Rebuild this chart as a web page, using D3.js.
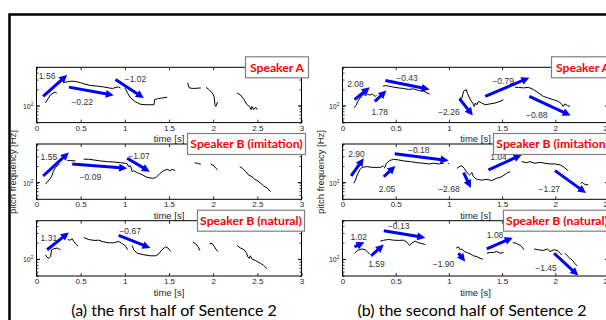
<!DOCTYPE html>
<html>
<head>
<meta charset="utf-8">
<script src="https://cdn.jsdelivr.net/npm/d3@7"></script>
<style>
  body { margin: 0; background: #fff; }
  text { font-family: "Liberation Sans", Arial, sans-serif; }
</style>
</head>
<body>
<div id="chart"></div>
<script>
// axis values
const yDomain = [50, 500];
const xTicksA = [0, 0.5, 1, 1.5, 2, 2.5, 3];
const xTicksB = [0, 0.5, 1, 1.5, 2, 2.5];
const speakers = ["Speaker A", "Speaker B (imitation)", "Speaker B (natural)"];
const captions = ["(a) the first half of Sentence 2", "(b) the second half of Sentence 2"];

// pitch contours: segments of [time s, F0 Hz]
const firstA = [
  [[0.10,113],[0.16,160],[0.21,179],[0.23,170]],
  [[0.30,263],[0.35,274],[0.40,281],[0.46,274],[0.50,263],[0.56,245],[0.61,235],[0.69,228],[0.76,221],[0.82,212],[0.86,207],[0.90,217],[0.93,221],[0.95,212]],
  [[1.00,212],[1.01,199],[1.03,172],[1.065,139],[1.12,119],[1.18,107],[1.25,105],[1.33,105],[1.337,130],[1.37,135],[1.42,139],[1.48,144]],
  [[1.71,263],[1.73,212],[1.78,207],[1.86,212]],
  [[1.92,217],[1.95,199],[1.99,172],[2.01,149],[2.02,105],[2.03,98],[2.05,118]],
  [[2.27,172],[2.31,158],[2.35,130],[2.38,107],[2.41,98],[2.43,86],[2.44,98],[2.46,86],[2.48,95],[2.50,86]]
];
const firstImit = [
  [[0.10,95],[0.12,101],[0.14,111],[0.17,128],[0.19,158],[0.215,189],[0.25,209],[0.26,218]],
  [[0.35,251],[0.385,251],[0.44,247]],
  [[0.535,265],[0.59,265],[0.65,257],[0.725,247],[0.80,240],[0.875,236],[0.95,230],[1.01,224],[1.03,218],[1.04,195],[1.065,201],[1.083,158],[1.10,165],[1.14,152],[1.20,138],[1.25,125],[1.31,120],[1.35,123],[1.40,148],[1.44,165],[1.48,174],[1.51,165],[1.54,174],[1.57,165]],
  [[1.79,230],[1.82,224],[1.86,215]],
  [[1.97,218],[2.01,201],[2.03,182],[2.05,170]],
  [[2.30,195],[2.33,182],[2.37,158],[2.40,138],[2.44,128],[2.47,115],[2.50,109],[2.54,97],[2.57,88],[2.61,80],[2.65,69]]
];
const firstNat = [
  [[0.10,121],[0.12,109],[0.14,104],[0.16,112],[0.17,149],[0.19,154],[0.235,160],[0.25,156],[0.27,149]],
  [[0.355,229],[0.377,222],[0.404,236],[0.42,213],[0.45,185],[0.47,173]],
  [[0.535,247],[0.59,229],[0.65,220],[0.705,222],[0.76,207],[0.82,199],[0.875,199],[0.93,211],[0.97,193],[1.01,173],[1.03,149]],
  [[1.083,178],[1.10,149],[1.14,129],[1.215,121],[1.29,116],[1.35,116],[1.385,126],[1.42,149],[1.46,168],[1.49,160],[1.52,139]],
  [[1.77,204],[1.80,193],[1.83,168],[1.85,145]],
  [[1.96,193],[1.99,193],[2.01,173],[2.03,154],[2.05,139]],
  [[2.27,178],[2.31,160],[2.35,149],[2.38,129],[2.39,112],[2.41,104],[2.42,116],[2.44,101],[2.48,95],[2.54,84],[2.57,78],[2.61,68]]
];
const secondA = [
  [[0.106,94],[0.122,98],[0.131,105],[0.144,121],[0.163,139],[0.184,149],[0.20,160],[0.225,156],[0.238,165],[0.256,156],[0.278,165],[0.294,156],[0.309,149],[0.319,156]],
  [[0.381,228],[0.403,234],[0.434,228],[0.481,219],[0.528,212],[0.575,207],[0.622,199],[0.669,204],[0.716,190],[0.763,185],[0.794,172],[0.819,165]],
  [[1.10,139],[1.122,139],[1.138,185],[1.163,199],[1.175,167],[1.194,139],[1.206,124],[1.225,113],[1.238,98],[1.25,113],[1.263,105],[1.278,121],[1.309,113],[1.341,105],[1.388,109],[1.434,113],[1.481,121],[1.513,130]],
  [[1.622,217],[1.653,217],[1.70,212],[1.747,217],[1.794,199],[1.841,172],[1.888,149],[1.934,139],[1.98,130],[2.028,121],[2.059,109],[2.075,98],[2.09,109],[2.113,102],[2.138,98]]
];
const secondImit = [
  [[0.106,97],[0.122,111],[0.138,138],[0.163,170],[0.184,189],[0.231,195],[0.278,189],[0.325,189],[0.356,189],[0.372,195],[0.388,201]],
  [[0.394,182],[0.413,224],[0.444,251],[0.481,265],[0.528,257],[0.575,247],[0.638,240],[0.70,230],[0.763,224],[0.809,218],[0.856,224],[0.903,218],[0.95,224]],
  [[0.99,224],[1.0,220]],
  [[1.075,182],[1.10,195],[1.122,201],[1.144,182],[1.169,152],[1.194,138],[1.216,152],[1.231,128],[1.263,115],[1.309,111],[1.356,115],[1.403,109],[1.45,120],[1.497,128],[1.544,148],[1.575,158]],
  [[1.684,240],[1.731,230],[1.763,240],[1.809,224],[1.856,233],[1.903,224],[1.95,218],[1.997,218],[2.044,209],[2.075,195],[2.106,174],[2.122,165]],
  [[2.238,97],[2.256,101],[2.269,95],[2.288,91],[2.309,93]]
];
const secondNat = [
  [[0.113,129],[0.131,139],[0.153,149],[0.184,154],[0.216,149],[0.238,133],[0.256,126]],
  [[0.356,213],[0.388,222],[0.434,229],[0.481,222],[0.528,220],[0.575,222],[0.606,204],[0.631,178],[0.653,199],[0.684,213],[0.716,199],[0.747,193],[0.778,185]],
  [[1.069,160],[1.09,168],[1.106,149],[1.122,154],[1.144,139],[1.169,133],[1.20,126],[1.231,116],[1.263,112],[1.294,104],[1.319,101]],
  [[1.356,129],[1.388,133],[1.419,133],[1.45,139],[1.481,129],[1.513,133]],
  [[1.60,199],[1.622,199],[1.653,185],[1.675,178],[1.694,160],[1.706,149]],
  [[1.80,154],[1.84,149],[1.888,145],[1.925,154],[1.95,139],[1.988,149],[2.019,145],[2.044,129],[2.06,121]],
  [[2.09,129],[2.113,116],[2.138,104],[2.163,95],[2.184,84],[2.206,76]]
];

// slope arrows: from / to [time, Hz], slope value and where it is written
const arrowsFirstA = [
  { from: [0.075,149], to: [0.347,363], slope: "1.56", at: [0.12,348] },
  { from: [0.366,219], to: [0.875,156], slope: "\u22120.22", at: [0.517,118] },
  { from: [0.894,302], to: [1.215,139], slope: "\u22121.02", at: [1.12,302] }
];
const arrowsFirstImit = [
  { from: [0.075,132], to: [0.366,352], slope: "1.55", at: [0.14,288] },
  { from: [0.404,218], to: [1.026,182], slope: "\u22120.09", at: [0.61,128] },
  { from: [1.026,276], to: [1.283,158], slope: "\u22121.07", at: [1.16,306] }
];
const arrowsFirstNat = [
  { from: [0.12,149], to: [0.366,306], slope: "1.31", at: [0.14,247] },
  { from: [0.93,272], to: [1.29,160], slope: "\u22120.67", at: [1.06,329] }
];
const arrowsSecondA = [
  { from: [0.113,130], to: [0.256,217], slope: "2.08", at: [0.122,251] },
  { from: [0.303,121], to: [0.413,190], slope: "1.78", at: [0.35,78] },
  { from: [0.403,289], to: [0.819,199], slope: "\u22120.43", at: [0.606,324] },
  { from: [1.10,135], to: [1.225,67], slope: "\u22122.26", at: [1.0,78] },
  { from: [1.341,149], to: [1.756,324], slope: "\u22120.79", at: [1.51,281] },
  { from: [1.756,149], to: [2.144,67], slope: "\u22120.88", at: [1.825,69] }
];
const arrowsSecondImit = [
  { from: [0.081,132], to: [0.20,276], slope: "2.90", at: [0.131,333] },
  { from: [0.388,128], to: [0.497,201], slope: "2.05", at: [0.419,76] },
  { from: [0.491,333], to: [0.997,251], slope: "\u22120.18", at: [0.716,394] },
  { from: [1.138,152], to: [1.206,80], slope: "\u22122.68", at: [1.0,76] },
  { from: [1.372,170], to: [1.684,319], slope: "1.04", at: [1.466,288] },
  { from: [1.997,165], to: [2.288,65], slope: "\u22121.27", at: [1.944,76] }
];
const arrowsSecondNat = [
  { from: [0.113,168], to: [0.206,204], slope: "1.02", at: [0.153,257] },
  { from: [0.269,116], to: [0.388,185], slope: "1.59", at: [0.319,82] },
  { from: [0.388,329], to: [0.778,247], slope: "\u22120.13", at: [0.528,398] },
  { from: [1.09,129], to: [1.153,91], slope: "\u22121.90", at: [0.95,82] },
  { from: [1.356,154], to: [1.60,247], slope: "1.08", at: [1.434,272] },
  { from: [1.988,129], to: [2.216,51], slope: "\u22121.45", at: [1.9125,71] }
];

const W = 606, H = 320;
const svg = d3.select('#chart').append('svg')
  .attr('width', W).attr('height', H);

// outer frame (runs past the picture on right / bottom)
svg.append('rect')
  .attr('x', 9.5).attr('y', 14.5).attr('width', 700).attr('height', 400)
  .attr('fill', 'none').attr('stroke', '#000').attr('stroke-width', 2.5);

const columns = [
  { x0: 36.5, x1: 301.5, dom: [0, 3], ticks: xTicksA, curves: [firstA, firstImit, firstNat],
    arrows: [arrowsFirstA, arrowsFirstImit, arrowsFirstNat], yLabX: 16, caption: captions[0], capX: 174 },
  { x0: 342.5, x1: 608.5, dom: [0, 2.5], ticks: xTicksB, curves: [secondA, secondImit, secondNat],
    arrows: [arrowsSecondA, arrowsSecondImit, arrowsSecondNat], yLabX: 324, caption: captions[1], capX: 472 }
];
const tops = [67.3, 144, 220.7];
const ph = 55.3;
const legendOff = [209, 151, 161];
const legendW = [63, 118, 107];

function drawArrow(g, p0, p1) {
  const dx = p1[0] - p0[0], dy = p1[1] - p0[1];
  const L = Math.hypot(dx, dy), ux = dx / L, uy = dy / L;
  const hl = 8, hw = 4;
  const bx = p1[0] - ux * hl, by = p1[1] - uy * hl;
  g.append('line')
    .attr('x1', p0[0]).attr('y1', p0[1])
    .attr('x2', bx + ux).attr('y2', by + uy)
    .attr('stroke', '#0000ff').attr('stroke-width', 3);
  g.append('path')
    .attr('d', `M${p1[0]},${p1[1]}L${bx - uy * hw},${by + ux * hw}L${bx + uy * hw},${by - ux * hw}Z`)
    .attr('fill', '#0000ff');
}

columns.forEach(col => {
  const x = d3.scaleLinear().domain(col.dom).range([col.x0, col.x1]);

  tops.forEach((top, i) => {
    const bottom = top + ph;
    const y = d3.scaleLog().domain(yDomain).range([bottom, top]);
    const g = svg.append('g');

    // inward ticks on all four sides
    const minor = y.ticks();
    g.append('g').attr('transform', `translate(0,${bottom})`)
      .call(d3.axisBottom(x).tickValues(col.ticks).tickSize(-3).tickPadding(2.5).tickFormat(d3.format('')))
      .call(a => a.select('.domain').remove())
      .call(a => a.selectAll('text').attr('font-size', 8).attr('fill', '#262626').attr('font-family', '"Liberation Sans", Arial, sans-serif'));
    g.append('g').attr('transform', `translate(0,${top})`)
      .call(d3.axisTop(x).tickValues(col.ticks).tickSize(-3).tickFormat(''))
      .call(a => a.select('.domain').remove());
    g.append('g').attr('transform', `translate(${col.x0},0)`)
      .call(d3.axisLeft(y).tickValues(minor).tickSize(-2).tickFormat(''))
      .call(a => a.select('.domain').remove());
    g.append('g').attr('transform', `translate(${col.x1},0)`)
      .call(d3.axisRight(y).tickValues(minor).tickSize(-2).tickFormat(''))
      .call(a => a.select('.domain').remove());
    [col.x0, col.x1].forEach((xx, k) => {
      g.append('line')
        .attr('x1', xx).attr('x2', xx + (k ? -3.5 : 3.5))
        .attr('y1', y(100)).attr('y2', y(100))
        .attr('stroke', '#000');
    });
    g.selectAll('.tick line').attr('stroke', '#000').attr('stroke-width', 0.8);

    g.append('rect')
      .attr('x', col.x0).attr('y', top).attr('width', col.x1 - col.x0).attr('height', ph)
      .attr('fill', 'none').attr('stroke', '#000').attr('stroke-width', 1);

    // 10^2 label
    const lab = g.append('text')
      .attr('x', col.x0 - 3).attr('y', y(100) + 3)
      .attr('text-anchor', 'end').attr('font-size', 7).attr('fill', '#262626');
    lab.append('tspan').text('10');
    lab.append('tspan').attr('dy', -3).attr('font-size', 5).text('2');

    // contours
    const line = d3.line().x(d => x(d[0])).y(d => y(d[1]));
    g.selectAll('path.contour')
      .data(col.curves[i]).enter().append('path')
      .attr('class', 'contour')
      .attr('d', line)
      .attr('fill', 'none').attr('stroke', '#000').attr('stroke-width', 1);

    // slope arrows and values
    col.arrows[i].forEach(a => {
      drawArrow(g, [x(a.from[0]), y(a.from[1])], [x(a.to[0]), y(a.to[1])]);
      g.append('text')
        .attr('x', x(a.at[0])).attr('y', y(a.at[1]) + 3)
        .attr('text-anchor', 'middle').attr('font-size', 8.5).attr('fill', '#333')
        .text(a.slope);
    });

    // axis title
    g.append('text')
      .attr('x', (col.x0 + col.x1) / 2).attr('y', bottom + 19.5)
      .attr('text-anchor', 'middle').attr('font-size', 9.5).attr('fill', '#262626')
      .text('time [s]');

    // speaker legend
    const lx = col.x0 + legendOff[i];
    g.append('rect')
      .attr('x', lx).attr('y', top - 10.5).attr('width', legendW[i]).attr('height', 21)
      .attr('fill', '#fff').attr('stroke', '#7f7f7f').attr('stroke-width', 1.2);
    g.append('text')
      .attr('x', lx + legendW[i] / 2).attr('y', top + 4.3)
      .attr('text-anchor', 'middle').attr('font-size', 12.2).attr('font-weight', 'bold')
      .attr('fill', '#ff0000').style('font-family', 'Lato, "Open Sans", sans-serif')
      .text(speakers[i]);
  });

  svg.append('text')
    .attr('transform', `translate(${col.yLabX},172) rotate(-90)`)
    .attr('text-anchor', 'middle').attr('font-size', 9.5).attr('fill', '#262626')
    .text('pitch frequency [Hz]');

  svg.append('text')
    .attr('x', col.capX).attr('y', 315.5)
    .attr('text-anchor', 'middle').attr('font-size', 16).attr('fill', '#000')
    .style('font-family', 'Lato, "Open Sans", sans-serif')
    .text(col.caption);
});
</script>
</body>
</html>
